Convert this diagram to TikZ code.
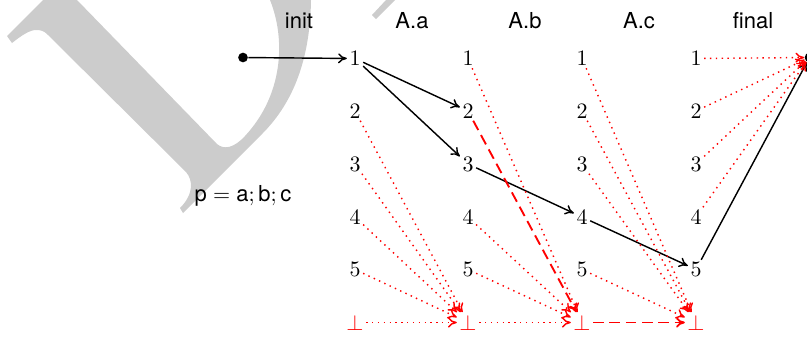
\documentclass[tikz,border=0pt]{standalone}
\usepackage{fontspec}
\setsansfont{TeX Gyre Heros}
\usetikzlibrary{arrows.meta}
\begin{document}
\begin{tikzpicture}[x=0.4545pt,y=-0.4545pt,
  st/.style={inner sep=1pt},
  lab/.style={font=\sffamily, anchor=base, inner sep=0pt},
  dotnode/.style={circle, fill=black, inner sep=0pt, minimum size=4.4pt},
  tip/.style={-{To[length=4pt,width=4.6pt]}},
  solidarr/.style={tip, line width=0.65pt, black},
  dotarr/.style={tip, red, dotted, line width=0.65pt},
  dasharr/.style={tip, red, dash pattern=on 4.8pt off 2.6pt, line width=0.85pt},
  wm/.style={fill=black!20}]
\useasboundingbox (0,0) rectangle (807,338);
\clip (0,0) rectangle (807,338);
% watermark
\fill[wm] (43,0) -- (7,36) -- (12,43)
  .. controls (22,35) and (30,30) .. (36,30)
  .. controls (41,30) and (44,31) .. (47,34)
  -- (186,172)
  .. controls (193,180) and (194,194) .. (180,208)
  -- (183,213) -- (262,134)
  .. controls (290,106) and (310,65) .. (311,0)
  -- (270,0)
  .. controls (286,40) and (283,95) .. (245,136)
  .. controls (234,148) and (224,150) .. (217,144)
  -- (77,0) -- cycle;
\fill[wm] (372,15) -- (376,19) -- (395,0) -- (386,0) -- cycle;
% labels
\node[lab] (linit) at (299,28) {init};
\node[lab] (la) at (412,28) {A.a};
\node[lab] (lb) at (525,28) {A.b};
\node[lab] (lc) at (639,28) {A.c};
\node[lab] (lf) at (753,28) {final};
\node[lab] (prog) at (243,201) {$\mathsf{p} = \mathsf{a;b;c}$};
% states
\node[dotnode] (s) at (243,57.5) {};
\node[dotnode] (f) at (809.5,57.5) {};
\foreach \c/\x in {a/355,b/468,c/582,d/696}{
  \foreach \r/\y in {1/58.5,2/111,3/164,4/217,5/269.5}{
    \node[st] (\c\r) at (\x,\y) {$\r$};
  }
  \node[st, red] (\c6) at (\x,322.5) {$\bot$};
}
% solid run
\draw[solidarr] (s) -- (a1);
\draw[solidarr] (a1) -- (b2);
\draw[solidarr] (a1) -- (b3);
\draw[solidarr] (b3) -- (c4);
\draw[solidarr] (c4) -- (d5);
\draw[solidarr] (d5) -- (f);
% dotted
\foreach \n in {a2,a3,a4,a5,a6}{\draw[dotarr] (\n) -- (b6);}
\foreach \n in {b1,b4,b5,b6}{\draw[dotarr] (\n) -- (c6);}
\foreach \n in {c1,c2,c3,c5}{\draw[dotarr] (\n) -- (d6);}
\foreach \n in {d1,d2,d3,d4}{\draw[dotarr] (\n) -- (f);}
% dashed
\draw[dasharr] (b2) -- (c6);
\draw[dasharr] (c6) -- (d6);
\end{tikzpicture}
\end{document}
